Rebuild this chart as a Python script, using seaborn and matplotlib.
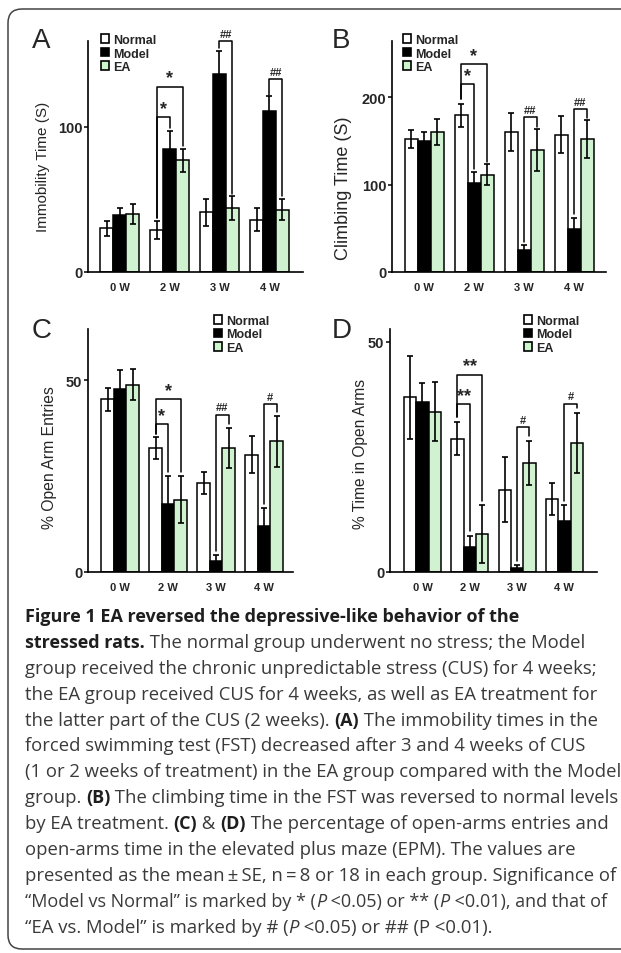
import matplotlib
matplotlib.use('Agg')
import matplotlib.pyplot as plt
from matplotlib.patches import FancyBboxPatch, Patch
import pandas as pd
import seaborn as sns

weeks = ['0 W', '2 W', '3 W', '4 W']
groups = ['Normal', 'Model', 'EA']
group_colors = ['white', 'black', '#ccf7cc']

# A - immobility time (s), mean and SE
imm_normal = [30, 29, 41, 36]
imm_model = [39, 85, 136, 111]
imm_ea = [40, 77, 44, 43]
imm_normal_se = [5, 6, 9, 8]
imm_model_se = [5, 12, 16, 10]
imm_ea_se = [7, 8, 8, 7]

# B - climbing time (s)
climb_normal = [152, 179, 160, 157]
climb_model = [150, 102, 25, 49]
climb_ea = [160, 111, 140, 152]
climb_normal_se = [10, 13, 22, 21]
climb_model_se = [10, 12, 6, 13]
climb_ea_se = [15, 12, 24, 22]

# C - % open arm entries
entries_normal = [45, 32.3, 23.1, 30.6]
entries_model = [47.8, 17.8, 2.8, 12.1]
entries_ea = [48.8, 18.8, 32.3, 34]
entries_normal_se = [3, 2.8, 2.9, 4.8]
entries_model_se = [4.8, 7.1, 1.7, 4.6]
entries_ea_se = [4.1, 6.1, 5.2, 6.7]

# D - % time in open arms
time_normal = [38, 29, 17.9, 15.9]
time_model = [37, 5.4, 0.9, 11]
time_ea = [34.8, 8.2, 23.7, 28]
time_normal_se = [9, 3.6, 7.1, 3.5]
time_model_se = [4, 2.5, 0.6, 3.5]
time_ea_se = [6.4, 6.3, 4.8, 6.5]

# significance brackets: (week, from group, to group, height, left leg end, right leg end, mark)
imm_brackets = [(1, 0, 1, 106.4, 37, 99, '*'), (1, 0, 2, 127.6, 37, 87, '*'),
                (2, 1, 2, 159, 154, 54, '##'), (3, 1, 2, 133, 122, 52, '##')]
climb_brackets = [(1, 0, 1, 214.8, 198, 118, '*'), (1, 0, 2, 237.6, 198, 126, '*'),
                  (2, 1, 2, 176.8, 34, 166, '##'), (3, 1, 2, 186.3, 66, 176, '##')]
entries_brackets = [(1, 0, 1, 38.6, 36, 26, '*'), (1, 0, 2, 45.1, 36, 26, '*'),
                    (2, 1, 2, 41, 5.5, 38.5, '##'), (3, 1, 2, 43.8, 17.7, 41.7, '#')]
time_brackets = [(1, 0, 1, 36.4, 33.6, 9, '**'), (1, 0, 2, 42.9, 33.6, 15.5, '**'),
                 (2, 1, 2, 31.5, 2.4, 29.5, '#'), (3, 1, 2, 36.6, 15.5, 35.6, '#')]

caption = [
    [("Figure 1 EA reversed the depressive-like behavior of the", 'b')],
    [("stressed rats.", 'b'), (" The normal group underwent no stress; the Model", 'n')],
    [("group received the chronic unpredictable stress (CUS) for 4 weeks;", 'n')],
    [("the EA group received CUS for 4 weeks, as well as EA treatment for", 'n')],
    [("the latter part of the CUS (2 weeks). ", 'n'), ("(A)", 'b'), (" The immobility times in the", 'n')],
    [("forced swimming test (FST) decreased after 3 and 4 weeks of CUS", 'n')],
    [("(1 or 2 weeks of treatment) in the EA group compared with the Model", 'n')],
    [("group. ", 'n'), ("(B)", 'b'), (" The climbing time in the FST was reversed to normal levels", 'n')],
    [("by EA treatment. ", 'n'), ("(C)", 'b'), (" & ", 'n'), ("(D)", 'b'),
     (" The percentage of open-arms entries and", 'n')],
    [("open-arms time in the elevated plus maze (EPM). The values are", 'n')],
    [("presented as the mean\u2009\u00b1\u2009SE, n\u2009=\u20098 or 18 in each group. Significance of", 'n')],
    [("\u201cModel vs Normal\u201d is marked by * (", 'n'), ("P", 'i'), (" <0.05) or ** (", 'n'),
     ("P", 'i'), (" <0.01), and that of", 'n')],
    [("\u201cEA vs. Model\u201d is marked by # (", 'n'), ("P", 'i'), (" <0.05) or ## (P <0.01).", 'n')],
]

sns.set_style('ticks')
plt.rcParams['font.family'] = ['Liberation Sans', 'DejaVu Sans']

fig = plt.figure(figsize=(6.21, 9.54), dpi=100)
bg = fig.add_axes([0, 0, 1, 1], zorder=-1)
bg.set_xlim(0, 621)
bg.set_ylim(954, 0)
bg.axis('off')
bg.add_patch(FancyBboxPatch((8, 10), 700, 940, boxstyle='round,pad=0,rounding_size=14',
                            fill=False, edgecolor='#444444', lw=1.1))

panels = [
    dict(letter='A', letter_xy=(32, 28), box=(88, 42, 303, 273), xlim=(-0.63, 3.67), ylim=(0, 159),
         yticks=[0, 100], ylabel='Immobility Time (S)', label_size=11, label_xy=(43, 167),
         legend_xy=(101, 35), means=(imm_normal, imm_model, imm_ea),
         ses=(imm_normal_se, imm_model_se, imm_ea_se), brackets=imm_brackets),
    dict(letter='B', letter_xy=(332, 28), box=(392, 42, 606, 273), xlim=(-0.64, 3.64), ylim=(0, 264),
         yticks=[0, 100, 200], ylabel='Climbing Time (S)', label_size=13, label_xy=(343, 188),
         legend_xy=(403, 35), means=(climb_normal, climb_model, climb_ea),
         ses=(climb_normal_se, climb_model_se, climb_ea_se), brackets=climb_brackets),
    dict(letter='C', letter_xy=(32, 318), box=(88, 330, 293, 573), xlim=(-0.667, 3.6), ylim=(0, 63.3),
         yticks=[0, 50], ylabel='% Open Arm Entries', label_size=11.3, label_xy=(50, 458),
         legend_xy=(214, 316), means=(entries_normal, entries_model, entries_ea),
         ses=(entries_normal_se, entries_model_se, entries_ea_se), brackets=entries_brackets),
    dict(letter='D', letter_xy=(332, 318), box=(390, 330, 597, 573), xlim=(-0.687, 3.69), ylim=(0, 52.8),
         yticks=[0, 50], ylabel='% Time in Open Arms', label_size=11.2, label_xy=(361, 454),
         legend_xy=(524, 316), means=(time_normal, time_model, time_ea),
         ses=(time_normal_se, time_model_se, time_ea_se), brackets=time_brackets),
]

for p in panels:
    l, t, r, b = p['box']
    ax = fig.add_axes([l / 621, 1 - b / 954, (r - l) / 621, (b - t) / 954])
    df = pd.DataFrame({
        'week': weeks * 3,
        'group': [g for g in groups for _ in weeks],
        'value': [v for m in p['means'] for v in m],
    })
    sns.barplot(data=df, x='week', y='value', hue='group', order=weeks, hue_order=groups,
                palette=group_colors, errorbar=None, width=0.78, edgecolor='black',
                linewidth=1.1, legend=False, ax=ax)
    bars = list(ax.containers)
    for h, cont in enumerate(bars):
        xs = [bar.get_x() + bar.get_width() / 2 for bar in cont]
        ax.errorbar(xs, p['means'][h], yerr=p['ses'][h], fmt='none', ecolor='black',
                    elinewidth=1.2, capsize=2.5, capthick=1.2, zorder=4)
    for wk, g1, g2, y, y1, y2, mark in p['brackets']:
        b1 = bars[g1][wk]
        b2 = bars[g2][wk]
        x1 = b1.get_x() + b1.get_width() / 2
        x2 = b2.get_x() + b2.get_width() / 2
        ax.plot([x1, x1, x2, x2], [y1, y, y, y2], color='black', lw=1.1, clip_on=False, zorder=5)
        fs = 13 if '*' in mark else 8
        ax.annotate(mark, xy=((x1 + x2) / 2, y), xytext=(0, 3), textcoords='offset points',
                    ha='center', va='baseline', fontsize=fs, fontweight='bold',
                    annotation_clip=False)
    ax.set_xlim(*p['xlim'])
    ax.set_ylim(*p['ylim'])
    ax.set_yticks(p['yticks'])
    ax.set_xlabel('')
    ax.set_ylabel(p['ylabel'], fontsize=p['label_size'], va='center')
    ax.yaxis.set_label_coords(*p['label_xy'], transform=bg.transData)
    ax.tick_params(axis='y', length=3, width=1.1, labelsize=10.5, pad=1, color='black')
    ax.tick_params(axis='x', length=0, labelsize=8, pad=7)
    for lbl in ax.get_yticklabels() + ax.get_xticklabels():
        lbl.set_fontweight('bold')
    sns.despine(ax=ax)
    for s in ['left', 'bottom']:
        ax.spines[s].set_linewidth(1.2)
        ax.spines[s].set_color('black')
    handles = [Patch(facecolor=c, edgecolor='black', linewidth=1.2) for c in group_colors]
    ax.legend(handles, groups, loc='upper left', bbox_to_anchor=p['legend_xy'],
              bbox_transform=bg.transData, frameon=False, borderpad=0, borderaxespad=0,
              handlelength=0.65, handleheight=0.65, handletextpad=0.35, labelspacing=0.12,
              prop={'weight': 'bold', 'size': 9})
    bg.text(*p['letter_xy'], p['letter'], fontsize=20, ha='left', va='top')

# caption, laid out segment by segment
renderer = fig.canvas.get_renderer()
styles = {
    'n': dict(color='#3a3a3a', fontsize=13.3),
    'b': dict(color='#1e1e1e', fontweight='bold', fontsize=13.0),
    'i': dict(color='#3a3a3a', fontstyle='italic', fontsize=13.3),
}
line_scale = {11: 0.975}


def seg_width(s, kw):
    t1 = bg.text(0, 0, '|' + s + '|', **kw)
    t2 = bg.text(0, 0, '||', **kw)
    w = t1.get_window_extent(renderer).width - t2.get_window_extent(renderer).width
    t1.remove()
    t2.remove()
    return w


y = 622
for n, line in enumerate(caption):
    x = 25
    for s, st in line:
        kw = dict(styles[st], family=['Open Sans', 'DejaVu Sans'])
        kw['fontsize'] = kw['fontsize'] * line_scale.get(n, 1)
        bg.text(x, y, s, va='baseline', ha='left', **kw)
        x += seg_width(s, kw)
    y += 25.9

fig.savefig('out.png', dpi=100)
